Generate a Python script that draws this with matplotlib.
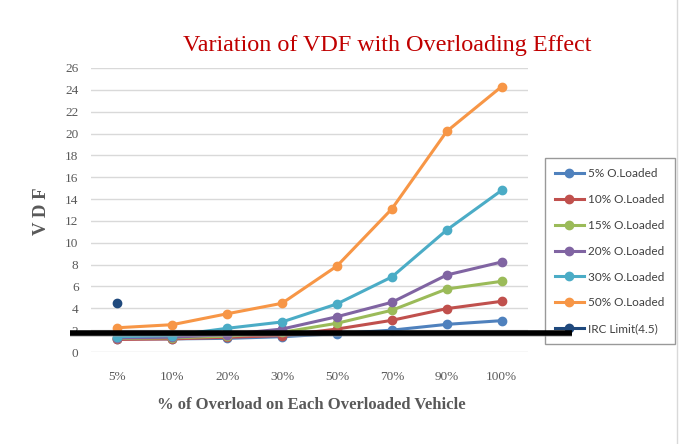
import matplotlib
matplotlib.use("Agg")
import matplotlib.pyplot as plt
import matplotlib.transforms as mtransforms
import numpy as np

categories = ["5%", "10%", "20%", "30%", "50%", "70%", "90%", "100%"]
s5 = [1.2, 1.2, 1.25, 1.4, 1.68, 2.0, 2.53, 2.87]
s10 = [1.15, 1.2, 1.35, 1.5, 2.1, 2.9, 3.97, 4.64]
s15 = [1.25, 1.3, 1.45, 1.8, 2.63, 3.82, 5.77, 6.47]
s20 = [1.3, 1.35, 1.6, 2.1, 3.23, 4.55, 7.05, 8.24]
s30 = [1.4, 1.5, 2.17, 2.75, 4.4, 6.87, 11.17, 14.8]
s50 = [2.22, 2.5, 3.5, 4.46, 7.87, 13.1, 20.2, 24.3]
irc = [4.5]
black_line_y = 1.75

series = [
    ("5% O.Loaded", s5, "#4F81BD"),
    ("10% O.Loaded", s10, "#C0504D"),
    ("15% O.Loaded", s15, "#9BBB59"),
    ("20% O.Loaded", s20, "#8064A2"),
    ("30% O.Loaded", s30, "#4BACC6"),
    ("50% O.Loaded", s50, "#F79646"),
]

fig = plt.figure(figsize=(6.81, 4.44), dpi=100)
W, H = 681, 444
ax = fig.add_axes([91 / W, 1 - 352 / H, (528 - 91) / W, (352 - 68) / H])

x = np.arange(len(categories))
handles = []
for name, vals, col in series:
    h, = ax.plot(x, vals, color=col, lw=2.2, marker="o", ms=6, label=name, zorder=3)
    handles.append(h)
h, = ax.plot(x[:len(irc)], irc, color="#1F497D", lw=2.2, marker="o", ms=6,
             label="IRC Limit(4.5)", zorder=3)
handles.append(h)

ax.set_xlim(-0.48, len(categories) - 0.52)
ax.set_ylim(0, 26)
ax.set_yticks(np.arange(0, 27, 2))
ax.set_xticks(x)
ax.set_xticklabels(categories)
ax.grid(axis="y", color="#D9D9D9", lw=1)
ax.set_axisbelow(True)
for sp in ax.spines.values():
    sp.set_visible(False)
ax.tick_params(length=0, colors="#595959", labelsize=9.5)
for lab in ax.get_xticklabels() + ax.get_yticklabels():
    lab.set_family("Liberation Serif")
ax.tick_params(axis="y", pad=9)
ax.tick_params(axis="x", pad=14)

fig.text(387 / W, 1 - 45 / H, "Variation of VDF with Overloading Effect",
         color="#C00000", fontsize=17.4, family="Liberation Serif", ha="center", va="center")
fig.text(42 / W, 1 - 211 / H, "V D F", rotation=90, color="#595959", fontsize=13.5,
         family="Liberation Serif", fontweight="bold", ha="center", va="center")
fig.text(311 / W, 1 - 405 / H, "% of Overload on Each Overloaded Vehicle",
         color="#595959", fontsize=12, family="Liberation Serif", fontweight="bold",
         ha="center", va="center")

leg = fig.legend(handles=handles, loc="upper left",
                 bbox_to_anchor=(545 / W, 1 - 158 / H), borderaxespad=0, frameon=True,
                 prop={"family": "Lato", "size": 8.5}, labelcolor="#404040",
                 handlelength=2.45, labelspacing=1.26, borderpad=0.85, handletextpad=0.35,
                 fancybox=False, edgecolor="#808080")
leg.get_frame().set_linewidth(1)

# thick black line with shadow, drawn above the legend
trans = mtransforms.blended_transform_factory(fig.transFigure, ax.transData)
fig.add_artist(plt.Line2D([70 / W, 572 / W], [black_line_y - 0.12, black_line_y - 0.12],
                          transform=trans, color="#999999", lw=4, alpha=0.6, zorder=6,
                          solid_capstyle="butt"))
fig.add_artist(plt.Line2D([70 / W, 572 / W], [black_line_y, black_line_y],
                          transform=trans, color="black", lw=4, zorder=7,
                          solid_capstyle="butt"))

# outer chart border (right edge)
fig.add_artist(plt.Line2D([677 / W, 677 / W], [0, 1], color="#D9D9D9", lw=1))

fig.savefig("out.png", dpi=100)
